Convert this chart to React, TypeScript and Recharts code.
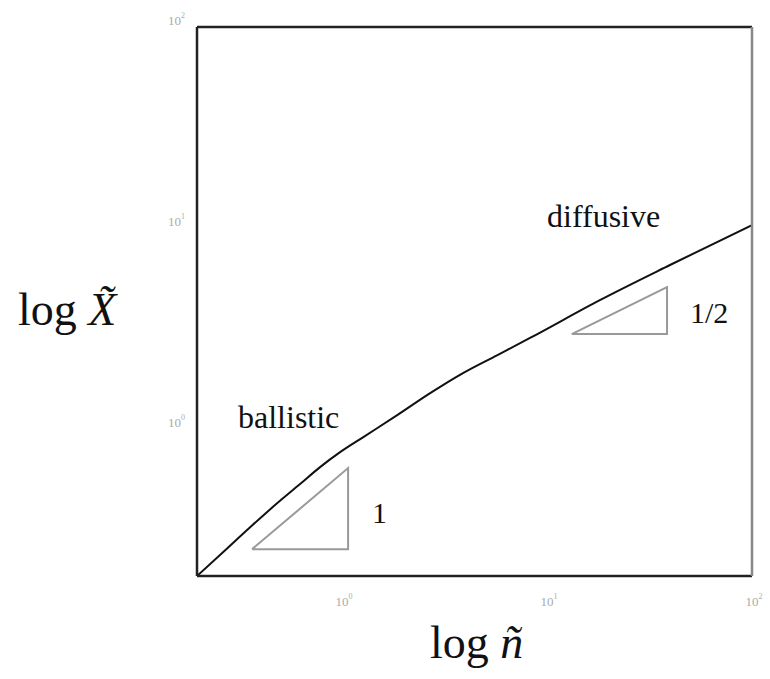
import { ComposedChart, Line, XAxis, YAxis } from "recharts";

// main curve
const curveN = [0.196, 0.269, 0.356, 0.471, 0.624, 0.781, 0.978, 1.27, 1.85, 2.69, 3.89, 5.7, 8.26, 18.1, 39.8, 100];
const curveX = [0.186, 0.25, 0.325, 0.419, 0.533, 0.647, 0.768, 0.913, 1.17, 1.51, 1.9, 2.33, 2.84, 4.38, 6.55, 10.35];

// slope triangles (closed paths)
const tri1N = [0.364, 1.07, 1.07, 0.364];
const tri1X = [0.253, 0.253, 0.64, 0.253];
const tri2N = [13.2, 38.5, 38.5, 13.2];
const tri2X = [2.97, 2.97, 5.09, 2.97];

const xTicks = [1, 10, 100];
const yTicks = [1, 10, 100];

const toRows = (ns: number[], xs: number[]) => ns.map((n, i) => ({ n, X: xs[i] }));

const curve = toRows(curveN, curveX);
const tri1 = toRows(tri1N, tri1X);
const tri2 = toRows(tri2N, tri2X);

const SERIF = "Liberation Serif, Times New Roman, Tinos, DejaVu Serif, serif";

function PowTick({ x, y, payload, side }: any) {
  const exp = Math.round(Math.log10(payload.value));
  if (side === "left") {
    return (
      <text x={x - 10} y={y - 2} textAnchor="end" fill="#aaa" fontSize={13} fontFamily={SERIF}>
        10
        <tspan dy={-7} fontSize={8}>
          {exp}
        </tspan>
      </text>
    );
  }
  return (
    <text x={x + 2} y={y + 28} textAnchor="middle" fill="#aaa" fontSize={13} fontFamily={SERIF}>
      10
      <tspan dy={-7} fontSize={8}>
        {exp}
      </tspan>
    </text>
  );
}

const note = (left: number, top: number, size: number): React.CSSProperties => ({
  position: "absolute",
  left,
  top,
  fontFamily: SERIF,
  fontSize: size,
  color: "#111",
  lineHeight: 1,
  whiteSpace: "nowrap",
});

export default function App() {
  return (
    <div style={{ position: "absolute", left: 0, top: 0, width: 770, height: 679, background: "#fff" }}>
      <ComposedChart width={770} height={679} margin={{ top: 26, right: 17, bottom: 102, left: 0 }}>
        <XAxis
          xAxisId="b"
          dataKey="n"
          type="number"
          scale="log"
          domain={[0.196, 100]}
          allowDataOverflow
          ticks={xTicks}
          height={1}
          tickLine={false}
          tickSize={0}
          axisLine={{ stroke: "#222", strokeWidth: 2.5 }}
          tick={(p: any) => <PowTick {...p} side="bottom" />}
        />
        <XAxis
          xAxisId="t"
          orientation="top"
          dataKey="n"
          type="number"
          scale="log"
          domain={[0.196, 100]}
          allowDataOverflow
          height={1}
          tick={false}
          tickLine={false}
          axisLine={{ stroke: "#222", strokeWidth: 2.5 }}
        />
        <YAxis
          yAxisId="l"
          dataKey="X"
          type="number"
          scale="log"
          domain={[0.186, 100]}
          allowDataOverflow
          ticks={yTicks}
          width={197}
          tickLine={false}
          tickSize={0}
          axisLine={{ stroke: "#222", strokeWidth: 2.5 }}
          tick={(p: any) => <PowTick {...p} side="left" />}
        />
        <YAxis
          yAxisId="r"
          orientation="right"
          dataKey="X"
          type="number"
          scale="log"
          domain={[0.186, 100]}
          allowDataOverflow
          width={1}
          tick={false}
          tickLine={false}
          axisLine={{ stroke: "#888", strokeWidth: 2.5 }}
        />
        <Line
          xAxisId="b"
          yAxisId="l"
          data={curve}
          dataKey="X"
          type="monotone"
          stroke="#111"
          strokeWidth={2}
          dot={false}
          isAnimationActive={false}
        />
        <Line
          xAxisId="b"
          yAxisId="l"
          data={tri1}
          dataKey="X"
          type="linear"
          stroke="#999"
          strokeWidth={2}
          dot={false}
          isAnimationActive={false}
        />
        <Line
          xAxisId="b"
          yAxisId="l"
          data={tri2}
          dataKey="X"
          type="linear"
          stroke="#999"
          strokeWidth={2}
          dot={false}
          isAnimationActive={false}
        />
      </ComposedChart>
      <div style={note(238, 401, 32)}>ballistic</div>
      <div style={note(547, 200, 32)}>diffusive</div>
      <div style={note(372, 498, 30)}>1</div>
      <div style={note(690, 298, 30)}>1/2</div>
      <div style={note(18, 287, 46)}>
        log <i>X&#771;</i>
      </div>
      <div style={note(430, 620, 46)}>
        log <i>ñ</i>
      </div>
    </div>
  );
}
